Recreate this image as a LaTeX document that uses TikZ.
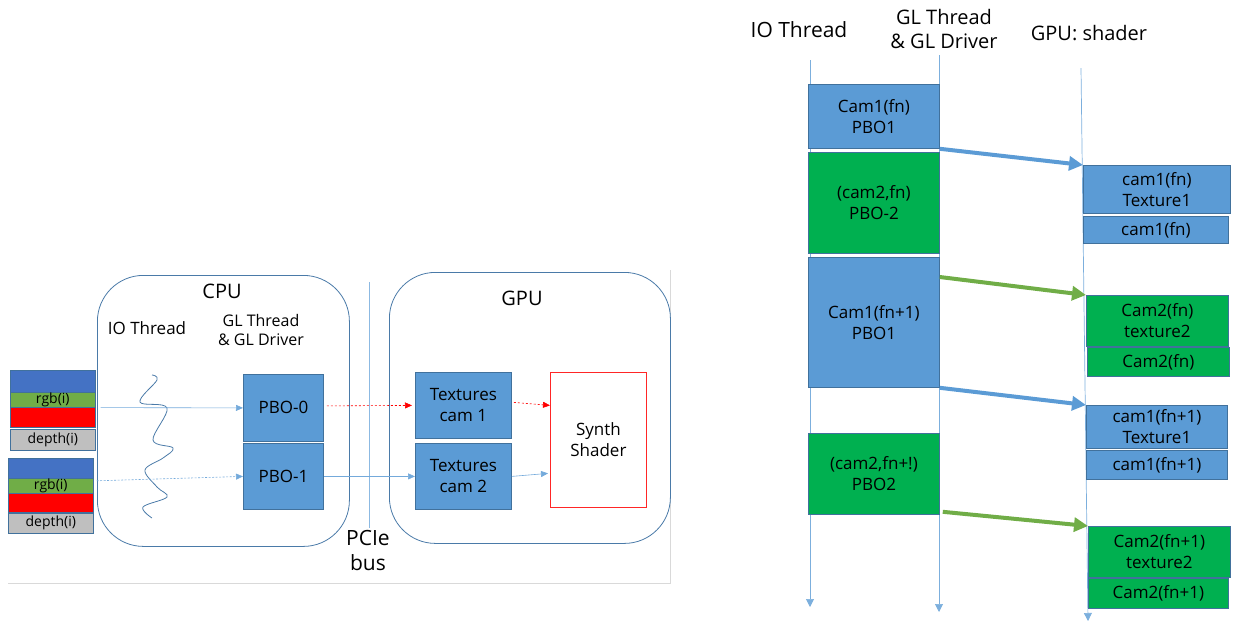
\documentclass[tikz,border=0pt]{standalone}
\usepackage{fontspec}
\setmainfont{Open Sans}
\usetikzlibrary{arrows.meta,calc}
\definecolor{boxblue}{HTML}{5B9BD5}
\definecolor{boxedge}{HTML}{41719C}
\definecolor{boxgreen}{HTML}{00B050}
\definecolor{stackblue}{HTML}{4472C4}
\definecolor{stackgreen}{HTML}{70AD47}
\definecolor{stackgray}{HTML}{BFBFBF}
\definecolor{arrowgreen}{HTML}{70AD47}
\definecolor{lineblue}{HTML}{5B9BD5}
\definecolor{frameblue}{HTML}{4A7AA8}
\definecolor{framegray}{HTML}{D9D9D9}
\newcommand{\fs}[2]{\fontsize{#1}{#2}\selectfont}
\tikzset{
  cell/.style={draw=boxedge, line width=0.8pt, inner sep=0pt, anchor=north west,
               align=center, text=black, font=\fs{17}{21}},
  bluecell/.style={cell, fill=boxblue},
  greencell/.style={cell, fill=boxgreen},
  stripe/.style={draw=boxedge, line width=0.6pt, inner sep=0pt, anchor=north west,
                 font=\fs{14}{16}},
  roundframe/.style={draw=frameblue, line width=0.8pt, rounded corners=46pt,
                     inner sep=0pt, anchor=north west},
  thin arrow/.style={lineblue!85, line width=0.6pt, -{Triangle[length=7pt,width=6pt]}},
  red dots/.style={red, line width=0.6pt, dash pattern=on 2pt off 2pt,
                   -{Triangle[length=7pt,width=6pt]}},
  timeline/.style={lineblue!80, line width=0.7pt, -{Triangle[length=8pt,width=8pt]}},
  fat blue/.style={boxblue, line width=4pt, -{Triangle[length=14pt,width=14pt]}},
  fat green/.style={arrowgreen, line width=4pt, -{Triangle[length=14pt,width=14pt]}},
  heading/.style={align=center, font=\fs{21}{24}},
  label/.style={align=center, font=\fs{17}{19}},
}
\begin{document}
\begin{tikzpicture}[x=1pt,y=-1pt]
\useasboundingbox (0,0) rectangle (1234,622);

% ---------- left: hardware view ----------
\draw[framegray, line width=0.8pt] (8,583) -- (670,583) -- (670,270);

\node[roundframe, minimum width=252pt, minimum height=271pt] (cpu) at (97,275) {};
\node[roundframe, minimum width=281pt, minimum height=271pt] (gpu) at (389,272) {};
\node[font=\fs{20}{22}] (cpulbl) at (222,291) {CPU};
\node[font=\fs{20}{22}] (gpulbl) at (522,298) {GPU};
\node[label] (iolbl) at (147,328) {IO Thread};
\node[label, font=\fs{16}{19}] (gllbl) at (261,330) {GL Thread\\\& GL Driver};

% PCIe bus
\coordinate (bus top) at (369,282);
\coordinate (bus bot) at (369,528);
\draw[lineblue!70, line width=0.6pt] (bus top) -- (bus bot);
\node[font=\fs{21}{25}, align=center] (buslbl) at (368,550) {PCIe\\bus};

% camera frames
\node[stripe, fill=stackblue, minimum width=85pt, minimum height=22pt] (s1b) at (10,370) {};
\node[stripe, fill=stackgreen, minimum width=85pt, minimum height=15pt] (s1g) at (10,392) {};
\node[stripe, fill=red, minimum width=85pt, minimum height=20pt] (s1r) at (10,407) {};
\node[stripe, fill=stackgray, minimum width=85pt, minimum height=21pt] (s1d) at (10,429) {};
\node[font=\fs{14}{16}] at (s1g.center) {rgb(i)};
\node[font=\fs{14}{16}] at (s1d.center) {depth(i)};

\node[stripe, fill=stackblue, minimum width=85pt, minimum height=20pt] (s2b) at (8,458) {};
\node[stripe, fill=stackgreen, minimum width=85pt, minimum height=15pt] (s2g) at (8,478) {};
\node[stripe, fill=red, minimum width=85pt, minimum height=19pt] (s2r) at (8,493) {};
\node[stripe, fill=stackgray, minimum width=85pt, minimum height=20pt] (s2d) at (8,513) {};
\node[font=\fs{14}{16}] at (s2g.center) {rgb(i)};
\node[font=\fs{14}{16}] at (s2d.center) {depth(i)};

% IO thread squiggle
\draw[frameblue, line width=0.8pt] plot[smooth, tension=0.6] coordinates {
  (152,375) (157,380) (140,402) (167,408) (153,440) (173,448) (163,458)
  (145,470) (157,487) (167,497) (143,507) (152,518)};

% buffers and textures
\node[bluecell, minimum width=80pt, minimum height=67pt] (pbo0) at (243,374) {PBO-0};
\node[bluecell, minimum width=80pt, minimum height=66pt] (pbo1) at (243,443) {PBO-1};
\node[bluecell, minimum width=96pt, minimum height=66pt] (tex1) at (415,372) {Textures\\cam 1};
\node[bluecell, minimum width=96pt, minimum height=66pt] (tex2) at (415,443) {Textures\\cam 2};
\node[cell, draw=red!85, fill=white, minimum width=96pt, minimum height=135pt] (synth) at (550,372) {Synth\\Shader};

\draw[thin arrow] ($(s1g.south east)+(5,0)$) -- (pbo0.west);
\draw[thin arrow, dash pattern=on 2pt off 1.5pt] ($(s2g.east)+(3,-5)$) -- (pbo1.west);
\draw[red dots] ($(pbo0.east)+(3,-2)$) -- ($(tex1.west)+(-3,0)$);
\draw[red dots] ($(tex1.east)+(2,-3)$) -- (synth.west |- tex1.east);
\draw[thin arrow] (pbo1.east) -- (tex2.west);
\draw[thin arrow] (tex2.east) -- ($(synth.west |- tex2.east)+(-2,-3)$);

% ---------- right: timeline view ----------
\node[heading] (ioh) at (799,30) {IO Thread};
\node[heading, font=\fs{20}{24}] (glh) at (944,29) {GL Thread\\\& GL Driver};
\node[heading, font=\fs{20}{24}] (gpuh) at (1089,33) {GPU: shader};

\coordinate (io top) at (810,60);
\coordinate (io bot) at (810,607);
\coordinate (gl top) at (939,55);
\coordinate (gl bot) at (939,612);
\coordinate (gp top) at (1081,68);
\coordinate (gp bot) at (1088,621);
\draw[timeline] (io top) -- (io bot);
\draw[timeline] (gl top) -- (gl bot);
\draw[timeline] (gp top) -- (gp bot);

\node[bluecell, minimum width=131pt, minimum height=64pt] (c1a) at (808,84) {Cam1(fn)\\PBO1};
\node[greencell, minimum width=131pt, minimum height=101pt] (c2a) at (808,152) {(cam2,fn)\\PBO-2};
\node[bluecell, minimum width=131pt, minimum height=130pt] (c1b) at (808,257) {Cam1(fn+1)\\PBO1};
\node[greencell, minimum width=131pt, minimum height=81pt] (c2b) at (808,433) {(cam2,fn+!)\\PBO2};

\node[bluecell, minimum width=147pt, minimum height=48pt] (t1a) at (1083,165) {cam1(fn)\\Texture1};
\node[bluecell, minimum width=145pt, minimum height=27pt] (t1b) at (1083,216) {cam1(fn)};
\node[greencell, minimum width=142pt, minimum height=51pt] (t2a) at (1086,295) {Cam2(fn)\\texture2};
\node[greencell, minimum width=142pt, minimum height=29pt] (t2b) at (1087,347) {Cam2(fn)};
\node[bluecell, minimum width=141pt, minimum height=43pt] (t3a) at (1086,405) {cam1(fn+1)\\Texture1};
\node[bluecell, minimum width=141pt, minimum height=29pt] (t3b) at (1086,450) {cam1(fn+1)};
\node[greencell, minimum width=142pt, minimum height=51pt] (t4a) at (1088,526) {Cam2(fn+1)\\texture2};
\node[greencell, minimum width=140pt, minimum height=30pt] (t4b) at (1088,578) {Cam2(fn+1)};

\draw[fat blue] (c1a.south east) -- (t1a.north west);
\draw[fat green] ($(c1b.north east)+(0,20)$) -- (t2a.north west);
\draw[fat blue] (c1b.south east) -- (t3a.north west);
\draw[fat green] ($(c2b.south east)+(3,-3)$) -- (t4a.north west);
\end{tikzpicture}
\end{document}
